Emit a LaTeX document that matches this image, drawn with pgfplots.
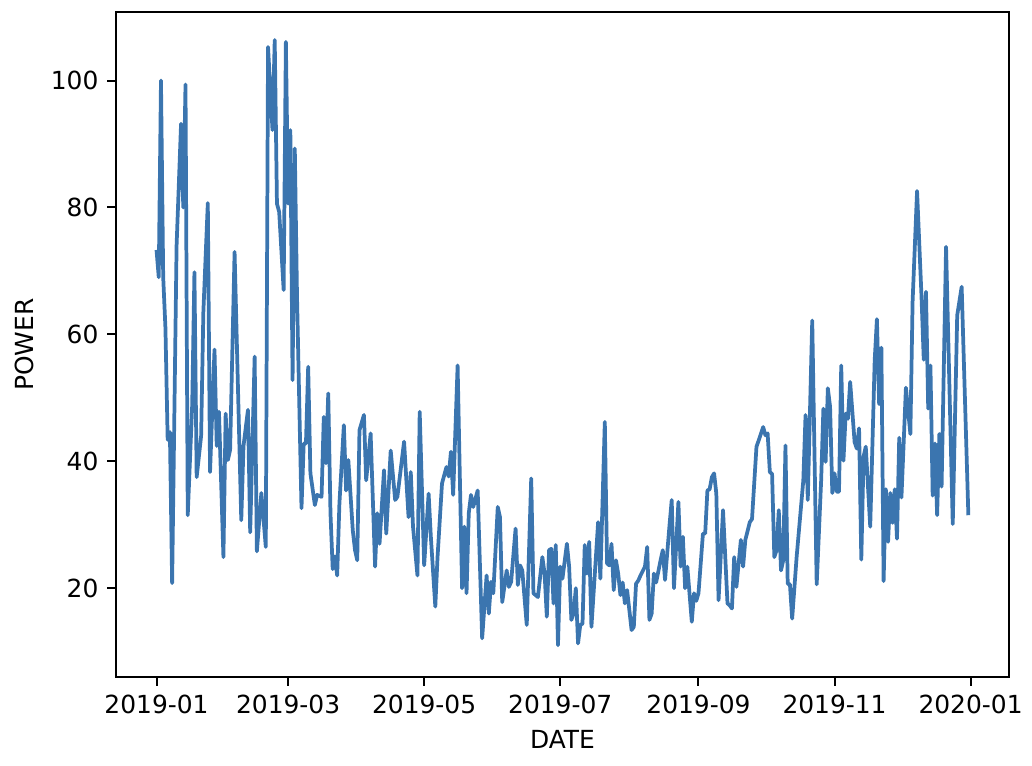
\documentclass[border=0pt]{standalone}
\usepackage{pgfplots}
\pgfplotsset{compat=1.18}
\usepackage{fontspec}
\setmainfont{DejaVu Sans}
\definecolor{lineblue}{RGB}{59,117,175}

% day of 2019 (0 = 2019-01-01), power
\pgfplotstableread{
day power
0 73.3
1 69.0
2 100.0
3 69.0
4 61.0
5 43.4
6 44.6
7 20.8
9 74.0
11 93.2
12 80.0
13 99.4
14 31.5
16 48.9
17 69.8
18 37.5
20 44.0
21 63.5
23 80.7
24 38.3
26 57.6
27 42.4
28 47.8
30 24.9
31 47.5
32 40.2
33 41.8
35 73.0
38 30.7
39 42.4
41 48.1
42 28.8
44 56.5
45 25.8
47 35.0
49 26.5
50 105.3
52 92.2
53 106.4
54 80.6
55 79.3
57 67.0
58 106.1
59 80.6
60 92.2
61 52.8
62 89.3
63 65.9
65 32.6
66 42.8
67 42.8
68 54.9
69 38.1
71 33.1
72 34.7
74 34.4
75 47.0
76 39.7
77 50.7
78 31.8
79 23.0
80 25.0
81 22.0
82 33.3
84 45.7
85 35.4
86 40.2
88 29.1
89 26.0
90 24.4
91 44.9
93 47.3
94 37.0
96 44.4
98 23.4
99 31.8
100 27.0
102 38.6
103 28.6
105 41.7
107 33.9
108 34.4
111 43.1
113 31.2
114 38.3
115 29.7
117 22.0
118 47.8
120 23.6
122 34.9
123 28.1
125 17.1
126 24.9
128 36.5
130 39.1
131 37.6
132 41.5
133 34.7
135 55.1
137 20.0
138 29.7
139 19.2
140 31.8
141 34.7
142 32.8
144 35.4
146 12.1
148 22.0
149 16.0
150 21.0
151 19.2
153 32.8
154 31.2
155 17.8
157 22.8
158 20.2
159 21.0
161 29.4
162 20.5
163 23.6
164 22.8
166 14.2
168 37.3
169 19.2
170 18.9
171 18.6
173 24.9
174 22.3
175 15.5
176 26.0
177 26.2
178 17.6
179 26.8
180 11.0
181 23.4
182 21.5
184 27.0
185 23.4
186 15.0
187 16.0
188 20.0
189 11.3
190 14.2
191 14.4
192 26.8
193 22.3
194 27.3
195 13.9
198 30.4
199 21.5
201 46.2
202 23.9
203 23.6
204 27.0
205 19.7
206 24.4
207 22.3
208 18.9
209 20.9
210 17.6
211 19.7
213 13.4
214 13.9
215 20.7
216 21.2
217 22.0
219 23.4
220 26.5
221 15.0
222 16.0
223 22.3
224 20.9
226 24.4
227 26.0
228 21.3
230 29.9
231 33.9
232 20.0
234 33.6
235 23.4
236 28.1
237 20.0
238 23.4
240 14.7
241 19.2
242 18.0
243 19.2
245 28.6
246 28.6
247 35.4
248 35.6
249 37.5
250 38.1
251 34.9
252 18.1
254 32.3
256 17.6
257 17.3
258 16.8
259 24.9
260 20.2
262 27.6
263 23.4
264 27.6
266 30.4
267 30.9
269 42.3
270 43.3
272 45.4
273 44.1
274 44.4
275 38.3
276 38.0
277 24.9
278 26.0
279 32.3
280 22.8
281 24.4
282 42.5
283 20.7
284 20.6
285 15.2
287 24.9
290 37.0
291 47.3
292 33.9
294 62.2
296 20.6
298 37.0
299 48.3
300 39.9
301 51.5
302 48.6
303 35.0
304 38.1
305 35.2
306 35.2
307 55.1
308 40.1
309 47.5
310 46.7
311 52.5
313 43.0
314 42.0
315 45.2
316 24.5
317 40.7
318 42.3
320 29.7
322 55.9
323 62.4
324 49.0
325 57.9
326 21.1
327 35.6
328 27.3
329 35.0
330 30.3
331 35.6
332 27.8
333 43.7
334 34.3
336 51.6
338 44.3
339 65.2
341 82.6
343 65.9
344 56.0
345 66.7
346 48.3
347 55.1
348 34.6
349 42.8
350 31.5
351 44.3
352 36.0
354 73.8
357 30.1
359 63.0
361 67.5
364 31.5
}\powerdata

\begin{document}
\begin{tikzpicture}
\useasboundingbox (-0.644in,-0.494in) rectangle (5.089in,3.761in);
\begin{axis}[
  scale only axis,
  width=4.961in, height=3.694in,
  xmin=-18.2, xmax=382.2,
  ymin=6.0, ymax=110.8,
  xtick={0,59,120,181,243,304,365},
  xticklabels={2019-01,2019-03,2019-05,2019-07,2019-09,2019-11,2020-01},
  ytick={20,40,60,80,100},
  xtick pos=bottom, ytick pos=left,
  tick align=outside,
  major tick length=3.5pt,
  tick style={black, line width=0.8pt},
  axis line style={black, line width=0.8pt},
  /pgf/number format/assume math mode=true,
  ticklabel style={font=\fontsize{10}{12}\selectfont},
  label style={font=\fontsize{10}{12}\selectfont},
  xlabel={DATE}, ylabel={POWER},
]
\addplot[lineblue, line width=1.5pt, line join=round, mark=none] table[x=day, y=power] {\powerdata};
\end{axis}
\end{tikzpicture}
\end{document}
